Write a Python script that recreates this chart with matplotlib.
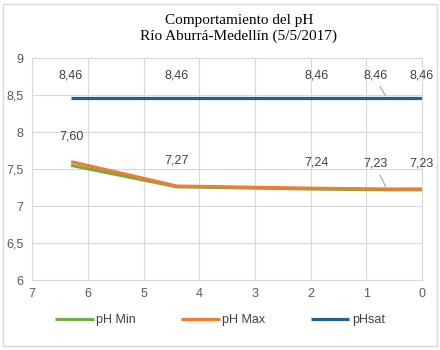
import matplotlib
matplotlib.use("Agg")
import matplotlib.pyplot as plt
from matplotlib.patches import Rectangle

x = [6.3, 4.4, 1.9, 0.63, 0.0]
ph_min = [7.55, 7.26, 7.23, 7.22, 7.22]
ph_max = [7.60, 7.27, 7.24, 7.23, 7.23]
ph_sat = [8.46, 8.46, 8.46, 8.46, 8.46]
max_labels = ["7,60", "7,27", "7,24", "7,23", "7,23"]
sat_labels = ["8,46", "8,46", "8,46", "8,46", "8,46"]

plt.rcParams['font.family'] = ['Liberation Sans', 'DejaVu Sans']

fig = plt.figure(figsize=(4.4, 3.5), dpi=100)
fig.patches.append(Rectangle((0.007, 0.012), 0.986, 0.978, transform=fig.transFigure,
                             fill=False, edgecolor="#d9d9d9", linewidth=1))
ax = fig.add_axes([0.073, 0.2, 0.886, 0.634])

ax.plot(x, ph_min, color="#70ad47", lw=2.3, label="pH Min", solid_capstyle="butt")
ax.plot(x, ph_max, color="#ed7d31", lw=2.3, label="pH Max", solid_capstyle="butt")
ax.plot(x, ph_sat, color="#255e91", lw=2.3, label="pHsat", solid_capstyle="butt")

ax.set_xlim(7, 0)
ax.set_ylim(6, 9)
ax.set_xticks(range(7, -1, -1))
ax.set_yticks([6, 6.5, 7, 7.5, 8, 8.5, 9])
ax.set_yticklabels(["6", "6,5", "7", "7,5", "8", "8,5", "9"])
ax.grid(True, color="#d9d9d9", lw=0.8)
ax.set_axisbelow(True)
for s in ax.spines.values():
    s.set_color("#d9d9d9")
ax.tick_params(length=0, labelsize=9, colors="#595959", pad=6)

offs = [0, 0, 0, -8, 0]
for i in range(len(x)):
    ax.annotate(max_labels[i], (x[i], ph_max[i]), xytext=(offs[i], 14), textcoords="offset points",
                ha="center", va="bottom", fontsize=9, color="#404040")
    ax.annotate(sat_labels[i], (x[i], ph_sat[i]), xytext=(offs[i], 12), textcoords="offset points",
                ha="center", va="bottom", fontsize=9, color="#404040")
# leader lines for the crowded point
ax.annotate("", (x[3], ph_max[3]), xytext=(-6, 12), textcoords="offset points",
            arrowprops=dict(arrowstyle="-", color="#a6a6a6", lw=0.8))
ax.annotate("", (x[3], ph_sat[3]), xytext=(-6, 10), textcoords="offset points",
            arrowprops=dict(arrowstyle="-", color="#a6a6a6", lw=0.8))

fig.suptitle("Comportamiento del pH\nRío Aburrá-Medellín (5/5/2017)", x=0.543, y=0.96,
             fontsize=11, family="Liberation Serif", color="#000000", linespacing=1.2)

fig.legend(loc="center", bbox_to_anchor=(0.5, 0.085), ncol=3, frameon=False, fontsize=9,
           handlelength=3.1, columnspacing=3.6, handletextpad=0.2, labelcolor="#404040")

fig.savefig("out.png", dpi=100)
